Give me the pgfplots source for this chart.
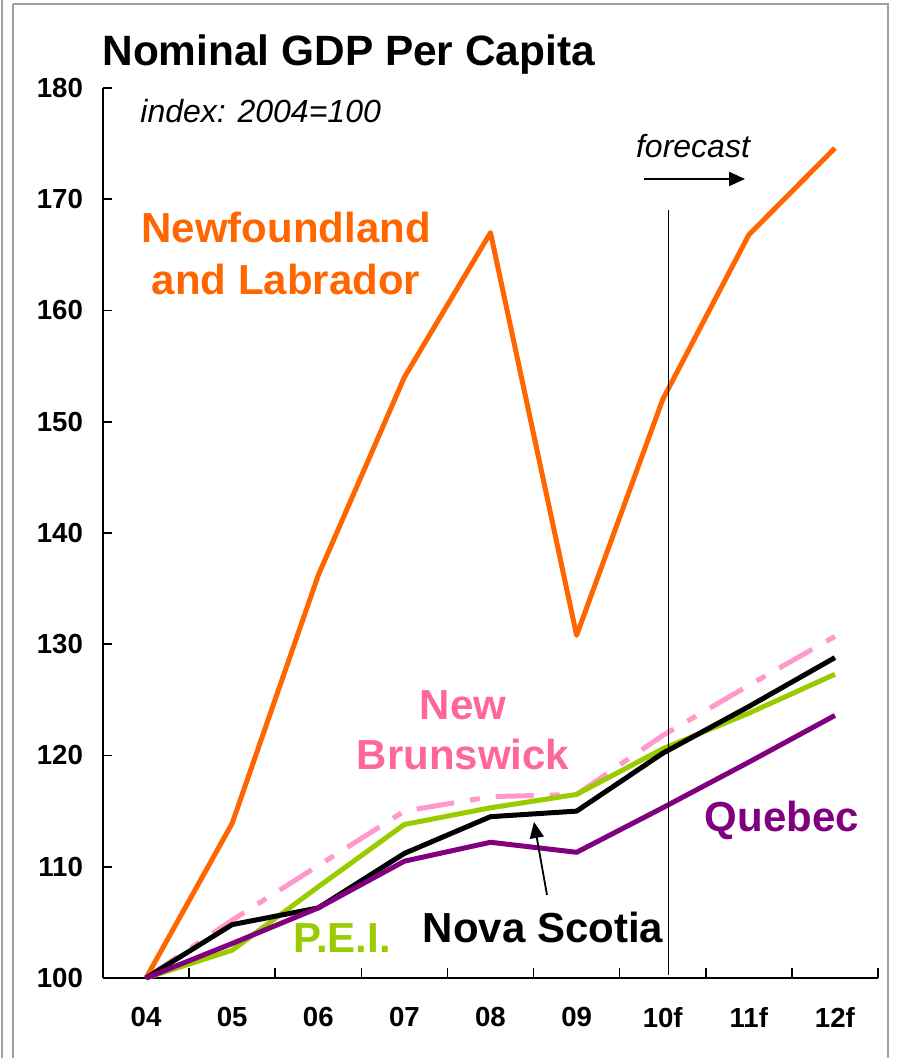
\documentclass[border=0pt]{standalone}
\usepackage{pgfplots}
\pgfplotsset{compat=1.18}
\usepackage{fontspec}
\setmainfont{Liberation Sans}
\usetikzlibrary{arrows.meta}
\definecolor{nfl}{HTML}{FF6600}
\definecolor{nbl}{HTML}{FF99CC}
\definecolor{nbt}{HTML}{FF6699}
\definecolor{pei}{HTML}{99CC00}
\definecolor{que}{HTML}{800080}
\definecolor{frm}{HTML}{A0A0A0}
\pgfplotstableread{
x nfl nb pei ns que
0 100.0 100.0 100.0 100.0 100.0
1 113.9 105.2 102.5 104.8 103.1
2 136.2 110.1 108.2 106.3 106.3
3 154.0 115.0 113.8 111.2 110.5
4 167.0 116.3 115.3 114.5 112.2
5 130.8 116.5 116.5 115.0 111.3
6 152.0 121.8 120.6 120.2 115.3
7 166.8 126.3 123.8 124.4 119.4
8 174.6 130.7 127.3 128.8 123.6
}\gdp
\begin{document}
\begin{tikzpicture}
\useasboundingbox (0,0) rectangle (448.5pt,529pt);
\begin{axis}[
  at={(51.5pt,40pt)}, anchor=south west,
  scale only axis, width=387.5pt, height=445pt,
  xmin=-0.5, xmax=8.5, ymin=100, ymax=180,
  axis x line*=bottom, axis y line*=left,
  axis line style={line width=1pt},
  tick align=inside,
  ytick={100,110,...,180},
  xtick={0,...,8},
  xticklabels={04,05,06,07,08,09,10f,11f,12f},
  minor xtick={-0.5,0.5,...,8.5},
  major tick length=4.5pt, minor tick length=5pt,
  major x tick style={draw=none},
  tick style={line width=0.8pt, black},
  /pgf/number format/assume math mode=true,
  ticklabel style={font=\bfseries\fontsize{13.8}{15}\selectfont},
  yticklabel style={anchor=east, xshift=-6.5pt},
  xticklabel style={anchor=north, yshift=-11pt},
  clip=false,
  every axis plot/.append style={line width=2.5pt, line join=round},
]
\addplot[nfl] table[x=x,y=nfl]{\gdp};
\addplot[nbl, dash pattern=on 19pt off 8pt on 5pt off 8pt] table[x=x,y=nb]{\gdp};
\addplot[pei] table[x=x,y=pei]{\gdp};
\addplot[black] table[x=x,y=ns]{\gdp};
\addplot[que] table[x=x,y=que]{\gdp};
\draw[line width=0.75pt] (axis cs:6.07,169) -- (axis cs:6.07,100.3);
\end{axis}
\begin{scope}[shift={(0pt,529pt)}, x=0.5pt, y=-0.5pt]
\draw[frm, line width=1pt] (13,4) -- (888,4) -- (888,1070);
\draw[frm, line width=1pt] (13,4) -- (13,1070);
\draw[frm, line width=1pt] (2,-5) -- (2,1070);
\node[anchor=base west, inner sep=0, font=\bfseries\fontsize{21.2}{24}\selectfont] at (102,66) {Nominal GDP Per Capita};
\node[anchor=base west, inner sep=0, font=\itshape\fontsize{16}{18}\selectfont] at (140,123) {index: 2004=100};
\node[anchor=base, inner sep=0, font=\itshape\fontsize{16}{18}\selectfont] at (693,158) {forecast};
\draw[line width=1pt, -{Triangle[length=8pt,width=7pt]}] (644,179) -- (745,179);
\node[anchor=base, inner sep=0, text=nfl, font=\bfseries\fontsize{21}{24}\selectfont] at (286,243) {Newfoundland};
\node[anchor=base, inner sep=0, text=nfl, font=\bfseries\fontsize{21}{24}\selectfont] at (286,295) {and Labrador};
\node[anchor=base, inner sep=0, text=nbt, font=\bfseries\fontsize{21}{24}\selectfont] at (463,720) {New};
\node[anchor=base, inner sep=0, text=nbt, font=\bfseries\fontsize{21}{24}\selectfont] at (463,770) {Brunswick};
\node[anchor=base, inner sep=0, text=que, font=\bfseries\fontsize{21}{24}\selectfont] at (782,832) {Quebec};
\node[anchor=base, inner sep=0, text=black, font=\bfseries\fontsize{21}{24}\selectfont] at (543,943) {Nova Scotia};
\node[anchor=base, inner sep=0, text=pei, font=\bfseries\fontsize{21}{24}\selectfont] at (342,953) {P.E.I.};
\draw[line width=0.9pt, -{Triangle[length=8pt,width=7pt]}] (547,895) -- (534,822);
\end{scope}
\end{tikzpicture}
\end{document}
